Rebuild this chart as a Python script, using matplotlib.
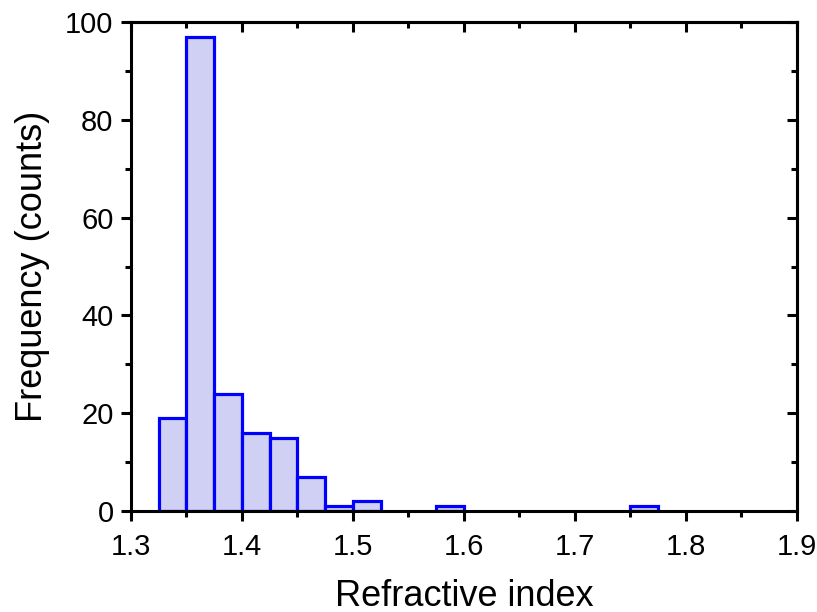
import numpy as np
import matplotlib
matplotlib.use("Agg")
from matplotlib import pyplot as plt
from matplotlib.ticker import MultipleLocator

plt.rcParams['font.family'] = ['Liberation Sans', 'DejaVu Sans']

# histogram data
bin_left = [1.325, 1.350, 1.375, 1.400, 1.425, 1.450, 1.475, 1.500, 1.575, 1.750]
counts = [19, 97, 24, 16, 15, 7, 1, 2, 1, 1]
bin_width = 0.025

fig = plt.figure(figsize=(8.17, 6.12), dpi=100)
ax = fig.add_axes([0.1603, 0.165, 0.8152, 0.799])

ax.bar(bin_left, counts, width=bin_width, align='edge',
       color='#d0d0f5', edgecolor='#0000ff', linewidth=2.3, zorder=2)

ax.set_xlim(1.3, 1.9)
ax.set_ylim(0, 100)
ax.xaxis.set_major_locator(MultipleLocator(0.1))
ax.xaxis.set_minor_locator(MultipleLocator(0.05))
ax.yaxis.set_major_locator(MultipleLocator(20))
ax.yaxis.set_minor_locator(MultipleLocator(10))

for s in ax.spines.values():
    s.set_linewidth(2.2)
    s.set_zorder(3)

ax.tick_params(which='both', direction='out', width=2.2, labelsize=21, top=False, right=False)
ax.tick_params(which='major', length=7.5, pad=5)
ax.tick_params(axis='x', which='major', pad=8)
ax.tick_params(which='minor', length=4)

# mirrored inward ticks on top and right
ax_top = ax.secondary_xaxis('top')
ax_top.xaxis.set_major_locator(MultipleLocator(0.1))
ax_top.xaxis.set_minor_locator(MultipleLocator(0.05))
ax_top.tick_params(which='both', direction='in', width=2.2, labeltop=False)
ax_top.tick_params(which='major', length=7)
ax_top.tick_params(which='minor', length=4)
ax_top.spines['top'].set_linewidth(2.2)
ax_right = ax.secondary_yaxis('right')
ax_right.yaxis.set_major_locator(MultipleLocator(20))
ax_right.yaxis.set_minor_locator(MultipleLocator(10))
ax_right.tick_params(which='both', direction='in', width=2.2, labelright=False)
ax_right.tick_params(which='major', length=7)
ax_right.tick_params(which='minor', length=4)
ax_right.spines['right'].set_linewidth(2.2)

ax.xaxis.set_major_formatter(lambda v, pos: f'{v:.1f}')
ax.set_xlabel('Refractive index', fontsize=26, labelpad=13)
ax.set_ylabel('Frequency (counts)', fontsize=26, labelpad=11)

fig.savefig('out.png', dpi=100)
